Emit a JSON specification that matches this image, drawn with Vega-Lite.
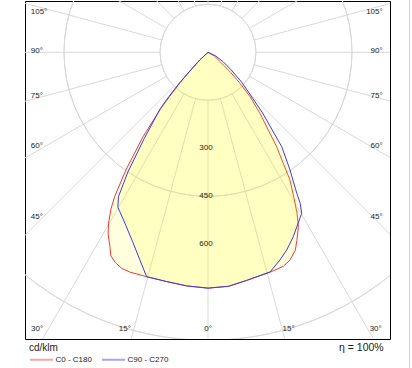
{
  "$schema": "https://vega.github.io/schema/vega-lite/v6.json",
  "width": 365,
  "height": 338,
  "autosize": {"type": "none"},
  "padding": {"left": 25, "top": 1, "right": 22, "bottom": 29},
  "background": "white",
  "config": {"view": {"stroke": "#000000", "strokeWidth": 1}, "font": "Liberation Sans"},
  "datasets": {
    "circles": [{"r": 150}, {"r": 300}, {"r": 450}, {"r": 600}, {"r": 750}, {"r": 900}, {"r": 1050}, {"r": 1200}],
    "spokes": [{"a": 0}, {"a": 15}, {"a": 30}, {"a": 45}, {"a": 60}, {"a": 75}, {"a": 90}, {"a": 105}, {"a": 120}, {"a": 135}, {"a": 150}, {"a": 165}, {"a": 180}, {"a": 195}, {"a": 210}, {"a": 225}, {"a": 240}, {"a": 255}, {"a": 270}, {"a": 285}, {"a": 300}, {"a": 315}, {"a": 330}, {"a": 345}],
    "lobes": [
      {"s": "C0 - C180", "g": -90, "I": 0},
      {"s": "C0 - C180", "g": -47, "I": 35},
      {"s": "C0 - C180", "g": -44, "I": 83},
      {"s": "C0 - C180", "g": -42.5, "I": 130},
      {"s": "C0 - C180", "g": -41, "I": 183},
      {"s": "C0 - C180", "g": -40, "I": 230},
      {"s": "C0 - C180", "g": -37.6, "I": 333},
      {"s": "C0 - C180", "g": -34.9, "I": 449},
      {"s": "C0 - C180", "g": -32.9, "I": 537},
      {"s": "C0 - C180", "g": -31.8, "I": 575},
      {"s": "C0 - C180", "g": -30.2, "I": 618},
      {"s": "C0 - C180", "g": -28.8, "I": 648},
      {"s": "C0 - C180", "g": -26.8, "I": 680},
      {"s": "C0 - C180", "g": -25.5, "I": 705},
      {"s": "C0 - C180", "g": -23.8, "I": 718},
      {"s": "C0 - C180", "g": -21.8, "I": 727},
      {"s": "C0 - C180", "g": -19.6, "I": 729},
      {"s": "C0 - C180", "g": -15.3, "I": 727},
      {"s": "C0 - C180", "g": -10.2, "I": 728},
      {"s": "C0 - C180", "g": -5.2, "I": 733},
      {"s": "C0 - C180", "g": 0, "I": 737},
      {"s": "C0 - C180", "g": 5, "I": 734},
      {"s": "C0 - C180", "g": 9.6, "I": 723},
      {"s": "C0 - C180", "g": 15.8, "I": 714},
      {"s": "C0 - C180", "g": 19.4, "I": 709},
      {"s": "C0 - C180", "g": 21.5, "I": 698},
      {"s": "C0 - C180", "g": 23.8, "I": 676},
      {"s": "C0 - C180", "g": 25.3, "I": 650},
      {"s": "C0 - C180", "g": 27.4, "I": 614},
      {"s": "C0 - C180", "g": 28.9, "I": 576},
      {"s": "C0 - C180", "g": 30.5, "I": 530},
      {"s": "C0 - C180", "g": 32.7, "I": 474},
      {"s": "C0 - C180", "g": 36, "I": 365},
      {"s": "C0 - C180", "g": 40.4, "I": 251},
      {"s": "C0 - C180", "g": 43.5, "I": 190},
      {"s": "C0 - C180", "g": 45.9, "I": 139},
      {"s": "C0 - C180", "g": 48.5, "I": 95},
      {"s": "C0 - C180", "g": 52, "I": 50},
      {"s": "C0 - C180", "g": 60, "I": 22},
      {"s": "C0 - C180", "g": 90, "I": 0},
      {"s": "C90 - C270", "g": -90, "I": 0},
      {"s": "C90 - C270", "g": -47, "I": 35},
      {"s": "C90 - C270", "g": -44, "I": 83},
      {"s": "C90 - C270", "g": -43, "I": 130},
      {"s": "C90 - C270", "g": -41.5, "I": 183},
      {"s": "C90 - C270", "g": -40.3, "I": 230},
      {"s": "C90 - C270", "g": -36.5, "I": 335},
      {"s": "C90 - C270", "g": -33.8, "I": 450},
      {"s": "C90 - C270", "g": -31.8, "I": 531},
      {"s": "C90 - C270", "g": -30.2, "I": 560},
      {"s": "C90 - C270", "g": -25.7, "I": 596},
      {"s": "C90 - C270", "g": -21.7, "I": 637},
      {"s": "C90 - C270", "g": -18.3, "I": 681},
      {"s": "C90 - C270", "g": -15.3, "I": 727},
      {"s": "C90 - C270", "g": -10.2, "I": 728},
      {"s": "C90 - C270", "g": -5.2, "I": 733},
      {"s": "C90 - C270", "g": 0, "I": 737},
      {"s": "C90 - C270", "g": 5, "I": 734},
      {"s": "C90 - C270", "g": 9.6, "I": 723},
      {"s": "C90 - C270", "g": 15.8, "I": 713},
      {"s": "C90 - C270", "g": 19.1, "I": 687},
      {"s": "C90 - C270", "g": 21.7, "I": 665},
      {"s": "C90 - C270", "g": 24.8, "I": 635},
      {"s": "C90 - C270", "g": 27.8, "I": 604},
      {"s": "C90 - C270", "g": 30.2, "I": 582},
      {"s": "C90 - C270", "g": 31.4, "I": 553},
      {"s": "C90 - C270", "g": 32.2, "I": 521},
      {"s": "C90 - C270", "g": 35, "I": 445},
      {"s": "C90 - C270", "g": 38, "I": 374},
      {"s": "C90 - C270", "g": 42, "I": 255},
      {"s": "C90 - C270", "g": 45, "I": 185},
      {"s": "C90 - C270", "g": 48.5, "I": 140},
      {"s": "C90 - C270", "g": 53, "I": 90},
      {"s": "C90 - C270", "g": 58, "I": 56},
      {"s": "C90 - C270", "g": 65, "I": 25},
      {"s": "C90 - C270", "g": 90, "I": 0}
    ],
    "ringLabels": [{"v": 300}, {"v": 450}, {"v": 600}],
    "leftLabels": [{"t": "105°", "y": 126}, {"t": "90°", "y": 4}, {"t": "75°", "y": -137}, {"t": "60°", "y": -293}, {"t": "45°", "y": -515}],
    "bottomLabels": [{"t": "30°", "x": -534}, {"t": "15°", "x": -260}, {"t": "0°", "x": 0}, {"t": "15°", "x": 252}, {"t": "30°", "x": 524}]
  },
  "layer": [
    {
      "data": {"name": "circles"},
      "mark": {"type": "arc", "filled": false, "stroke": "#d9d9d9", "strokeWidth": 1, "theta": 0, "theta2": 6.2832, "clip": true},
      "encoding": {
        "x": {"datum": 0, "type": "quantitative", "scale": {"domain": [-571.9, 568.75], "nice": false, "zero": false}, "axis": null},
        "y": {"datum": 0, "type": "quantitative", "scale": {"domain": [-895.9, 160.3], "nice": false, "zero": false}, "axis": null},
        "radius": {"field": "r", "type": "quantitative", "scale": {"type": "linear", "domain": [0, 1000], "range": [0, 320], "zero": true, "nice": false}, "legend": null}
      }
    },
    {
      "data": {"name": "spokes"},
      "transform": [
        {"calculate": "150*sin(datum.a*PI/180)", "as": "xa"},
        {"calculate": "-150*cos(datum.a*PI/180)", "as": "ya"},
        {"calculate": "1500*sin(datum.a*PI/180)", "as": "xb"},
        {"calculate": "-1500*cos(datum.a*PI/180)", "as": "yb"}
      ],
      "mark": {"type": "rule", "color": "#d9d9d9", "strokeWidth": 1, "clip": true},
      "encoding": {
        "x": {"field": "xa", "type": "quantitative", "axis": null},
        "y": {"field": "ya", "type": "quantitative", "axis": null},
        "x2": {"field": "xb"},
        "y2": {"field": "yb"}
      }
    },
    {
      "data": {"name": "lobes"},
      "transform": [
        {"calculate": "datum.I*sin(datum.g*PI/180)", "as": "px"},
        {"calculate": "-datum.I*cos(datum.g*PI/180)", "as": "py"}
      ],
      "mark": {"type": "line", "fill": "#ffff00", "fillOpacity": 0.13, "strokeWidth": 1, "clip": true},
      "encoding": {
        "x": {"field": "px", "type": "quantitative", "axis": null},
        "y": {"field": "py", "type": "quantitative", "axis": null},
        "order": {"field": "g", "type": "quantitative"},
        "color": {
          "field": "s", "type": "nominal",
          "scale": {"domain": ["C0 - C180", "C90 - C270"], "range": ["#f03a3a", "#3a3af0"]},
          "legend": {
            "orient": "none", "legendX": 4, "legendY": 342, "direction": "horizontal",
            "title": "cd/klm", "titleFontSize": 10, "titleFontWeight": "normal", "titleColor": "#222222", "titlePadding": -6, "titleFont": "Liberation Sans",
            "labelFontSize": 8, "labelColor": "#222222", "labelFont": "Liberation Sans", "labelOffset": 1.5,
            "symbolType": "stroke", "symbolSize": 529, "symbolStrokeWidth": 2, "symbolOpacity": 0.45,
            "columnPadding": 6, "padding": 0
          }
        }
      }
    },
    {
      "data": {"name": "ringLabels"},
      "transform": [{"calculate": "-datum.v", "as": "ny"}],
      "mark": {"type": "text", "fontSize": 8, "color": "#222222", "align": "center", "baseline": "middle", "dx": -2},
      "encoding": {
        "x": {"datum": 0, "type": "quantitative"},
        "y": {"field": "ny", "type": "quantitative"},
        "text": {"field": "v", "type": "nominal"}
      }
    },
    {
      "data": {"name": "leftLabels"},
      "mark": {"type": "text", "fontSize": 8, "color": "#222222", "align": "left", "baseline": "middle"},
      "encoding": {
        "x": {"datum": -554, "type": "quantitative"},
        "y": {"field": "y", "type": "quantitative"},
        "text": {"field": "t", "type": "nominal"}
      }
    },
    {
      "data": {"name": "leftLabels"},
      "mark": {"type": "text", "fontSize": 8, "color": "#222222", "align": "right", "baseline": "middle"},
      "encoding": {
        "x": {"datum": 546, "type": "quantitative"},
        "y": {"field": "y", "type": "quantitative"},
        "text": {"field": "t", "type": "nominal"}
      }
    },
    {
      "data": {"name": "bottomLabels"},
      "mark": {"type": "text", "fontSize": 8, "color": "#222222", "align": "center", "baseline": "middle"},
      "encoding": {
        "x": {"field": "x", "type": "quantitative"},
        "y": {"datum": -865, "type": "quantitative"},
        "text": {"field": "t", "type": "nominal"}
      }
    },
    {
      "data": {"values": [{"t": "η = 100%"}]},
      "mark": {"type": "text", "fontSize": 10.5, "color": "#222222", "align": "right", "baseline": "middle"},
      "encoding": {
        "x": {"datum": 549, "type": "quantitative"},
        "y": {"datum": -924, "type": "quantitative"},
        "text": {"field": "t", "type": "nominal"}
      }
    },
    {
      "data": {"values": [{}]},
      "mark": {"type": "rule", "color": "#d4d4d4", "strokeWidth": 1},
      "encoding": {
        "x": {"datum": 629.7, "type": "quantitative"},
        "y": {"datum": 170, "type": "quantitative"},
        "y2": {"datum": -1000}
      }
    }
  ]
}
